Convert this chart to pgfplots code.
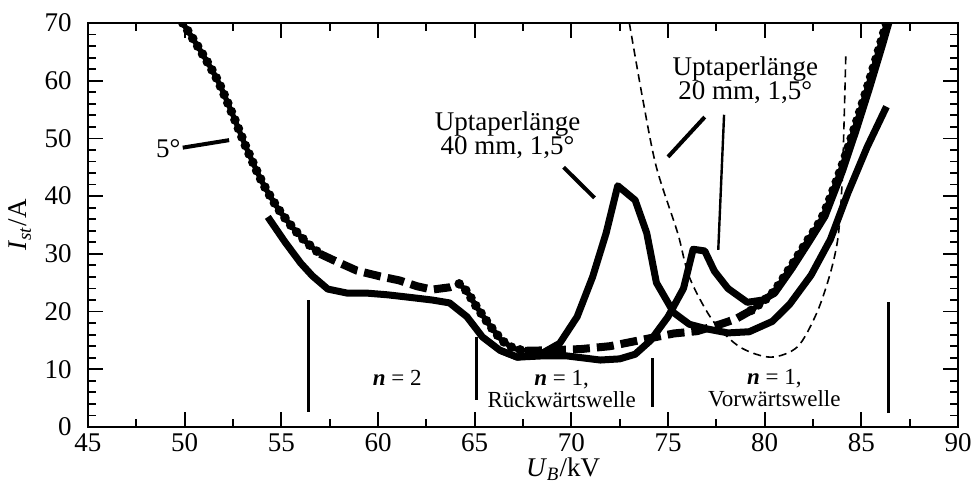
\documentclass[border=0pt]{standalone}
\usepackage{fontspec}
\setmainfont{Liberation Serif}
\usepackage{pgfplots}
\pgfplotsset{compat=1.18}
\begin{document}
\begin{tikzpicture}
\begin{axis}[
 scale only axis, width=435pt, height=202pt,
 xmin=45, xmax=90, ymin=0, ymax=70,
 xtick={45,50,...,90}, ytick={0,10,...,70},
 minor x tick num=1, minor y tick num=4,
 tick align=inside, tick pos=both,
 major tick length=7.5pt, minor tick length=4pt,
 axis line style={line width=1pt},
 every tick/.style={line width=0.9pt, black},
 tick label style={font=\fontsize{13.5}{15}\selectfont},
 /pgf/number format/assume math mode=true,
 xticklabel style={inner sep=0pt, yshift=-3pt},
 yticklabel style={inner sep=0pt, xshift=-8pt},
 xlabel={\textit{U}\textsubscript{\textit{B}}/kV},
 ylabel={\textit{I}\textsubscript{\textit{st}}/A},
 label style={font=\fontsize{13.5}{15}\selectfont},
 xlabel style={at={(rel axis cs:0.546,0)}, anchor=north, inner sep=0pt, yshift=-15pt},
 ylabel style={at={(rel axis cs:0,0.5)}, anchor=center, inner sep=0pt, yshift=34pt},
 beads/.style={line width=4.8pt, dash pattern=on 0pt off 4.6pt, line cap=round},
 beadcore/.style={line width=2.6pt},
 thickdash/.style={line width=4pt, dash pattern=on 8.5pt off 3.5pt},
]
% Uptaper 40 mm
\addplot[black, line width=3.5pt, line join=round] coordinates {(54.3,36.4)(55.2,32)(56,28.4)(56.6,26.2)(57.4,23.9)(58.4,23.2)(59.4,23.2)(60.5,22.9)(61.8,22.4)(62.8,22)(63.7,21.5)(64.6,19.1)(65.4,15.6)(66.3,13.3)(67.2,12.1)(68.4,12.6)(69.4,14.5)(70.3,19.1)(71.1,26)(71.8,33.6)(72.4,41.8)(73.3,39.3)(73.9,33.6)(74.4,25)(75.3,19.8)(76.1,17.8)(77.0,17)(78.1,16.3)(79.2,16.5)(80.4,18.3)(81.3,21.3)(82.4,26.3)(83.4,32.5)(84.3,40.5)(85.3,48.5)(86.3,55.5)};
% Uptaper 20 mm
\addplot[black, line width=3.5pt, line join=round] coordinates {(66.3,13.3)(67.2,12.1)(68.4,12.3)(69.8,12.3)(71.5,11.6)(72.5,11.8)(73.3,12.6)(74.1,15)(75.0,19.1)(75.8,24)(76.3,30.8)(76.9,30.5)(77.4,27)(78.1,24)(79.1,21.6)(79.9,22)(80.52,23.2)(81.42,27.5)(82.32,32.2)(83.12,36.5)(84.02,44.3)(84.72,51.3)(85.42,58.7)(86.12,66.5)(86.42,70)};
% 5 degree curve: beaded and dashed parts
\addplot[black, beadcore, smooth] coordinates {(49.9,70)(50.8,65.3)(51.7,60.1)(52.5,54)(53.2,48.3)(54.0,42.5)(54.8,38)(55.6,34.5)(56.3,32)(57.0,30)};
\addplot[black, beads, smooth] coordinates {(49.9,70)(50.8,65.3)(51.7,60.1)(52.5,54)(53.2,48.3)(54.0,42.5)(54.8,38)(55.6,34.5)(56.3,32)(57.0,30)};
\addplot[black, thickdash] coordinates {(57.0,30)(57.7,28.9)(58.9,27.1)(60.1,26.1)(61.1,25.4)(62.0,24.4)(62.8,23.8)(63.7,24.2)(64.2,24.8)};
\addplot[black, beadcore] coordinates {(64.2,24.8)(64.6,23.5)(65.1,20.8)(65.8,17.5)(66.4,15)(67.0,13.6)(67.6,13.2)};
\addplot[black, beads] coordinates {(64.2,24.8)(64.6,23.5)(65.1,20.8)(65.8,17.5)(66.4,15)(67.0,13.6)(67.6,13.2)};
\addplot[black, thickdash] coordinates {(67.6,13.2)(69,13.3)(70.5,13.5)(72,14)(73.5,15)(75.3,16.2)(76.5,16.6)(77.7,17.8)(78.5,18.7)(79.3,20.2)};
\addplot[black, beadcore, smooth] coordinates {(79.3,20.2)(80.4,23.2)(81.3,27.5)(82.2,32.2)(83.0,36.5)(83.9,44.3)(84.6,51.3)(85.3,58.7)(86.0,66.5)(86.3,70)};
\addplot[black, beads, smooth] coordinates {(79.3,20.2)(80.4,23.2)(81.3,27.5)(82.2,32.2)(83.0,36.5)(83.9,44.3)(84.6,51.3)(85.3,58.7)(86.0,66.5)(86.3,70)};
% thin dashed curve
\addplot[black, line width=0.8pt, dash pattern=on 4pt off 2.5pt, smooth] coordinates {(73.0,70)(73.7,56.7)(74.4,45)(75.5,33.6)(76.1,26)(77.3,18.5)(78.7,13.9)(80.3,12.1)(81.7,13.9)(82.7,19.8)(83.4,26.7)(83.8,33)(84.0,42)(84.1,52)(84.2,64.8)};
% region markers
\addplot[black, line width=1.5pt] coordinates {(56.4,2.6)(56.4,22)};
\addplot[black, line width=1.5pt] coordinates {(65.1,4.7)(65.1,15.6)};
\addplot[black, line width=1.5pt] coordinates {(74.2,3.5)(74.2,12)};
\addplot[black, line width=1.5pt] coordinates {(86.4,2.4)(86.4,21.7)};
% annotations
\draw[line width=2pt] (axis cs:49.9,48.4) -- (axis cs:52.3,49.7);
\node[font=\fontsize{13.5}{15}\selectfont, anchor=east, inner sep=1pt] at (axis cs:49.9,48.2) {5°};
\node[font=\fontsize{13.5}{15}\selectfont, align=center, inner sep=0pt] at (axis cs:66.7,50.6) {Uptaperlänge\\[-3pt]40 mm, 1,5°};
\draw[line width=2pt] (axis cs:69.6,45) -- (axis cs:71.2,39.7);
\node[font=\fontsize{13.5}{15}\selectfont, align=center, inner sep=0pt] at (axis cs:79.0,60.1) {Uptaperlänge\\[-3pt]20 mm, 1,5°};
\draw[line width=2pt] (axis cs:76.9,53.7) -- (axis cs:75.0,46.8);
\draw[line width=1.2pt] (axis cs:77.9,54.1) -- (axis cs:77.6,30.7);
\node[font=\fontsize{11.5}{13}\selectfont, inner sep=0pt] at (axis cs:61.0,8.5) {\textit{\textbf{n}} = 2};
\node[font=\fontsize{11.5}{13}\selectfont, align=center, inner sep=0pt] at (axis cs:69.5,6.6) {\textit{\textbf{n}} = 1,\\[-2pt]Rückwärtswelle};
\node[font=\fontsize{11.5}{13}\selectfont, align=center, inner sep=0pt] at (axis cs:80.5,6.7) {\textit{\textbf{n}} = 1,\\[-2pt]Vorwärtswelle};
\end{axis}
\pgfresetboundingbox
\path[use as bounding box] ([shift={(-44pt,-29.5pt)}]current axis.south west) rectangle ([shift={(9.5pt,11.5pt)}]current axis.north east);
\end{tikzpicture}
\end{document}
